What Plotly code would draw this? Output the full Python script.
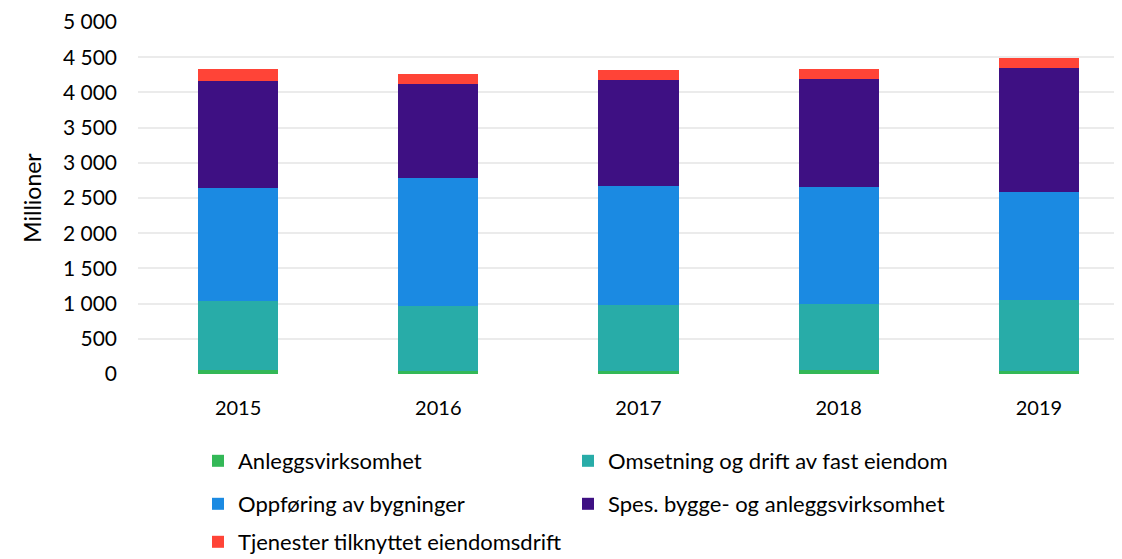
import plotly.graph_objects as go

years = ["2015", "2016", "2017", "2018", "2019"]
anlegg = [52, 42, 42, 52, 47]
omsetning = [982, 926, 945, 944, 1001]
oppforing = [1605, 1822, 1685, 1662, 1544]
spes = [1525, 1332, 1506, 1530, 1752]
tjenester = [175, 146, 137, 151, 151]

series = [
    ("Anleggsvirksomhet", anlegg, "#33b857"),
    ("Omsetning og drift av fast eiendom", omsetning, "#28aca8"),
    ("Oppføring av bygninger", oppforing, "#1b8ae2"),
    ("Spes. bygge- og anleggsvirksomhet", spes, "#3e1083"),
    ("Tjenester tilknyttet eiendomsdrift", tjenester, "#ff4437"),
]
legend_ids = ["legend", "legend2", "legend3", "legend4", "legend5"]

FONT = "Lato"
fig = go.Figure()
for (name, vals, col), lg in zip(series, legend_ids):
    fig.add_trace(go.Bar(x=years, y=vals, name=name, marker=dict(color=col, line=dict(width=0)),
                         legend=lg))

# page body has an 8px margin; figure coordinates = reference coordinates - 8
OFF = 8
W, H = 1122 - OFF, 559 - OFF
plot_left, plot_right = 138 - OFF, 1122 - OFF
plot_top, plot_bottom = 22 - OFF, 374.5 - OFF

def legend_cfg(xl, yc):
    return dict(orientation="h", xref="container", yref="container",
                x=(xl - OFF) / W, y=1 - (yc - OFF) / H, xanchor="left", yanchor="middle",
                font=dict(family=FONT, size=22, color="#000000"),
                bgcolor="rgba(0,0,0,0)", itemclick=False)

col1, col2 = 198, 568
fig.update_layout(
    width=W, height=H,
    barmode="stack", bargap=0.6,
    separators=", ",
    paper_bgcolor="white", plot_bgcolor="white",
    margin=dict(l=plot_left, r=W - plot_right, t=plot_top, b=H - plot_bottom, autoexpand=False),
    font=dict(family=FONT, size=20, color="#000000"),
    showlegend=True,
    legend=legend_cfg(col1, 461),
    legend2=legend_cfg(col2, 461),
    legend3=legend_cfg(col1, 504),
    legend4=legend_cfg(col2, 504),
    legend5=legend_cfg(col1, 542),
    xaxis=dict(range=[-0.5, 4.415], showgrid=False, showline=False, zeroline=False,
               ticks="", ticklabelstandoff=20, tickfont=dict(family=FONT, size=20)),
    yaxis=dict(range=[0, 5000], dtick=500, tickformat=",", showgrid=True,
               gridcolor="#ebebeb", gridwidth=1.5, zeroline=False, showline=False,
               ticks="", ticklabelstandoff=20, tickfont=dict(family=FONT, size=21),
               title=dict(text="Millioner", font=dict(family=FONT, size=23), standoff=14)),
)

fig.write_html("out.html")
